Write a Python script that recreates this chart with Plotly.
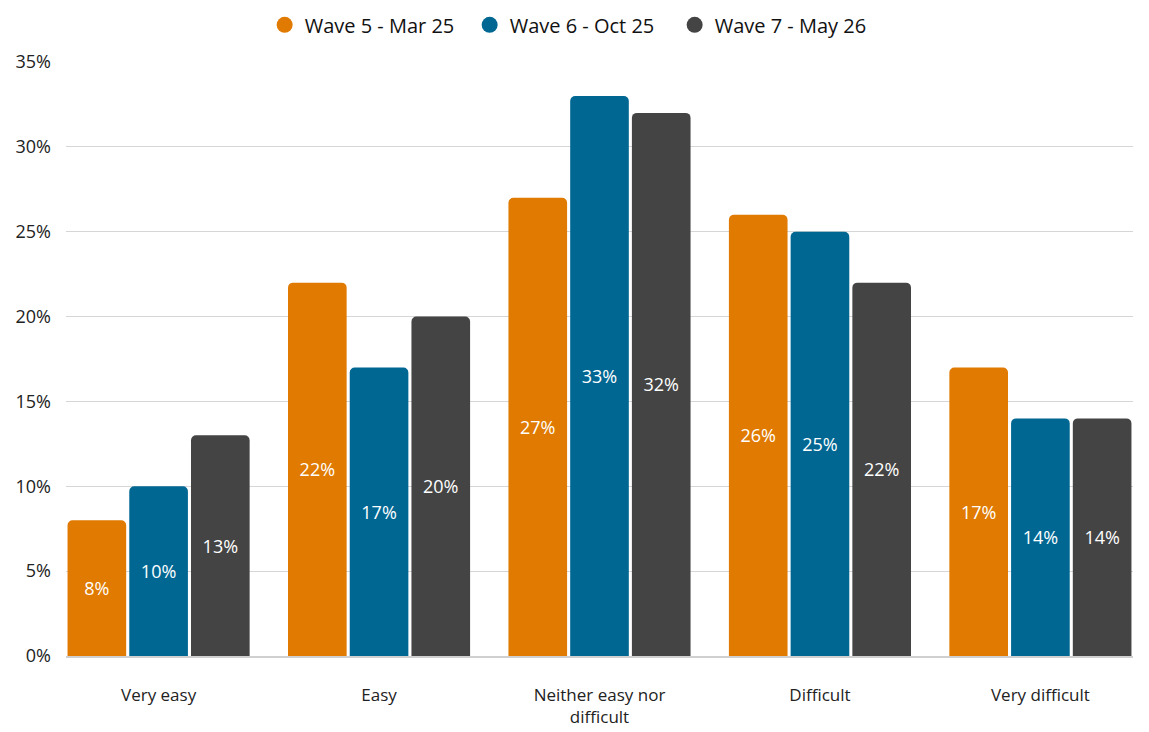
import plotly.graph_objects as go

categories = ["Very easy", "Easy", "Neither easy nor<br>difficult", "Difficult", "Very difficult"]
wave5 = [8, 22, 27, 26, 17]
wave6 = [10, 17, 33, 25, 14]
wave7 = [13, 20, 32, 22, 14]
series_names = ["Wave 5 - Mar 25", "Wave 6 - Oct 25", "Wave 7 - May 26"]
colors = ["#E07A00", "#006793", "#444444"]
y_ticks = [0, 5, 10, 15, 20, 25, 30, 35]

fig = go.Figure()

for name, vals, c in zip(series_names, [wave5, wave6, wave7], colors):
    fig.add_trace(go.Bar(x=categories, y=vals, name=name,
                         marker=dict(color=c, line=dict(width=0)),
                         text=[f"{v}%" for v in vals],
                         textposition="inside",
                         insidetextanchor="middle",
                         textfont=dict(color="white", size=18, family="Open Sans"),
                         showlegend=False))
    # legend with round markers
    fig.add_trace(go.Scatter(x=[None], y=[None], mode="markers", name=name,
                             marker=dict(color=c, size=20, symbol="circle")))

# page body has an 8px margin, so the margins are shifted to compensate
fig.update_layout(
    width=1149, height=732,
    barmode="group",
    bargap=0.16,
    bargroupgap=0.05,
    barcornerradius=5,
    font=dict(family="Open Sans", color="#222222", size=17),
    paper_bgcolor="white",
    plot_bgcolor="white",
    margin=dict(l=58, r=24, t=54, b=84, autoexpand=False),
    legend=dict(orientation="h", x=0.491, xanchor="center", xref="container",
                y=0.977, yanchor="middle", yref="container",
                font=dict(size=20, color="#111111"), itemwidth=30,
                entrywidth=160, traceorder="normal"),
    uniformtext=dict(mode=False),
)

fig.update_xaxes(range=[-0.42, 4.42], showgrid=False, ticks="", showline=True,
                 linecolor="#d0d0d0", linewidth=1.5, tickfont=dict(size=17),
                 ticklabelstandoff=23)
fig.update_yaxes(range=[0, 35], tickvals=y_ticks, ticktext=[f"{t}%" for t in y_ticks],
                 showgrid=True, gridcolor="#d6d6d6", gridwidth=1, zeroline=False,
                 ticks="", ticklabelstandoff=14, tickfont=dict(size=18))

fig.write_html("out.html")
